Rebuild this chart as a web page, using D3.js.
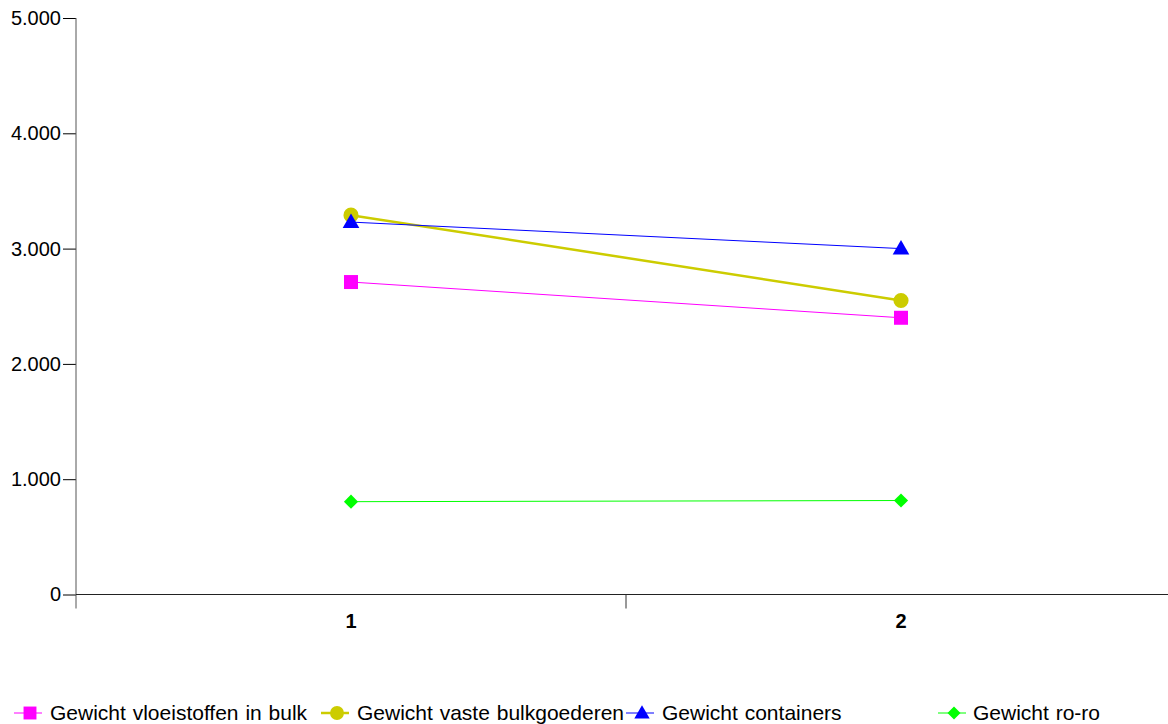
<!DOCTYPE html>
<html><head><meta charset="utf-8">
<script src="https://cdn.jsdelivr.net/npm/d3@7"></script>
<style>body{margin:0;background:#fff;} text{font-family:"Liberation Sans",Arial,sans-serif;}</style>
</head><body>
<svg id="c" width="1168" height="724"></svg>
<script>
const categories = ["1", "2"];
const seriesNames = ["Gewicht vloeistoffen in bulk", "Gewicht vaste bulkgoederen", "Gewicht containers", "Gewicht ro-ro"];
const vloeistoffen = [2710, 2400];
const vasteBulk = [3290, 2550];
const containers = [3230, 3000];
const roro = [805, 815];
const yTicks = [0, 1000, 2000, 3000, 4000, 5000];
const yTickLabels = ["0", "1.000", "2.000", "3.000", "4.000", "5.000"];

const diamond = { draw(ctx, size) { const r = Math.sqrt(size/2); ctx.moveTo(0,-r); ctx.lineTo(r,0); ctx.lineTo(0,r); ctx.lineTo(-r,0); ctx.closePath(); } };
const styles = [
  {color: "#FF00FF", width: 1, symbol: d3.symbolSquare, size: 196},
  {color: "#CCCC00", width: 2.5, symbol: d3.symbolCircle, size: 180},
  {color: "#0000FF", width: 1, symbol: d3.symbolTriangle, size: 120},
  {color: "#00FF00", width: 1, symbol: diamond, size: 100}
];
const seriesData = [vloeistoffen, vasteBulk, containers, roro];

const svg = d3.select("#c");
const x0 = 76, yTop = 18, yBottom = 594.5;
const x = d3.scaleBand().domain(categories).range([x0, x0 + 1100]);
const y = d3.scaleLinear().domain([0, 5000]).range([yBottom, yTop]);

// y axis
const yAxis = d3.axisLeft(y).tickValues(yTicks).tickFormat((d,i)=>yTickLabels[i]).tickSize(13).tickPadding(2);
const gy = svg.append("g").attr("transform", `translate(${x0},0)`).call(yAxis);
gy.attr("font-size", 20).attr("font-family", "Liberation Sans, Arial, sans-serif");
gy.select(".domain").remove();
gy.selectAll(".tick line").attr("stroke", "#000");
gy.selectAll(".tick text").attr("fill", "#000");
svg.append("line").attr("x1", x0).attr("x2", x0).attr("y1", yTop).attr("y2", yBottom + 14).attr("stroke", "#555").attr("stroke-width", 1);

// x axis
svg.append("line").attr("x1", x0).attr("x2", 1168).attr("y1", yBottom).attr("y2", yBottom).attr("stroke", "#222").attr("stroke-width", 1);
categories.slice(1).forEach(c => {
  const xx = x(c);
  svg.append("line").attr("x1", xx).attr("x2", xx).attr("y1", yBottom).attr("y2", yBottom + 14).attr("stroke", "#333");
});
categories.forEach(c => {
  svg.append("text").attr("x", x(c) + x.bandwidth()/2).attr("y", 628).attr("text-anchor", "middle")
    .attr("font-size", 20).attr("font-weight", "bold").text(c);
});

// lines
const line = d3.line().x((d,i)=>x(categories[i]) + x.bandwidth()/2).y(d=>y(d));
seriesData.forEach((s, k) => {
  svg.append("path").datum(s).attr("d", line).attr("fill", "none")
    .attr("stroke", styles[k].color).attr("stroke-width", styles[k].width);
});
seriesData.forEach((s, k) => {
  svg.selectAll(null).data(s).enter().append("path")
    .attr("d", d3.symbol().type(styles[k].symbol).size(styles[k].size))
    .attr("transform", (d,i)=>`translate(${x(categories[i]) + x.bandwidth()/2},${y(d) + (k===2?1:0)})`)
    .attr("fill", styles[k].color);
});

// legend
const legendPos = [30, 337, 642, 954];
const legendY = 713;
seriesNames.forEach((n, k) => {
  const cx = legendPos[k];
  const g = svg.append("g");
  g.append("line").attr("x1", cx - 16).attr("x2", cx + 12).attr("y1", legendY).attr("y2", legendY)
    .attr("stroke", styles[k].color).attr("stroke-width", styles[k].width);
  g.append("path").attr("d", d3.symbol().type(styles[k].symbol).size(styles[k].size * 0.85))
    .attr("transform", `translate(${cx},${legendY + (k===2?1:0)})`).attr("fill", styles[k].color);
  g.append("text").attr("x", cx + (k===3?19:20)).attr("y", legendY + 7).attr("font-size", 21)
    .attr("word-spacing", 1).text(n);
});
</script>
</body></html>
